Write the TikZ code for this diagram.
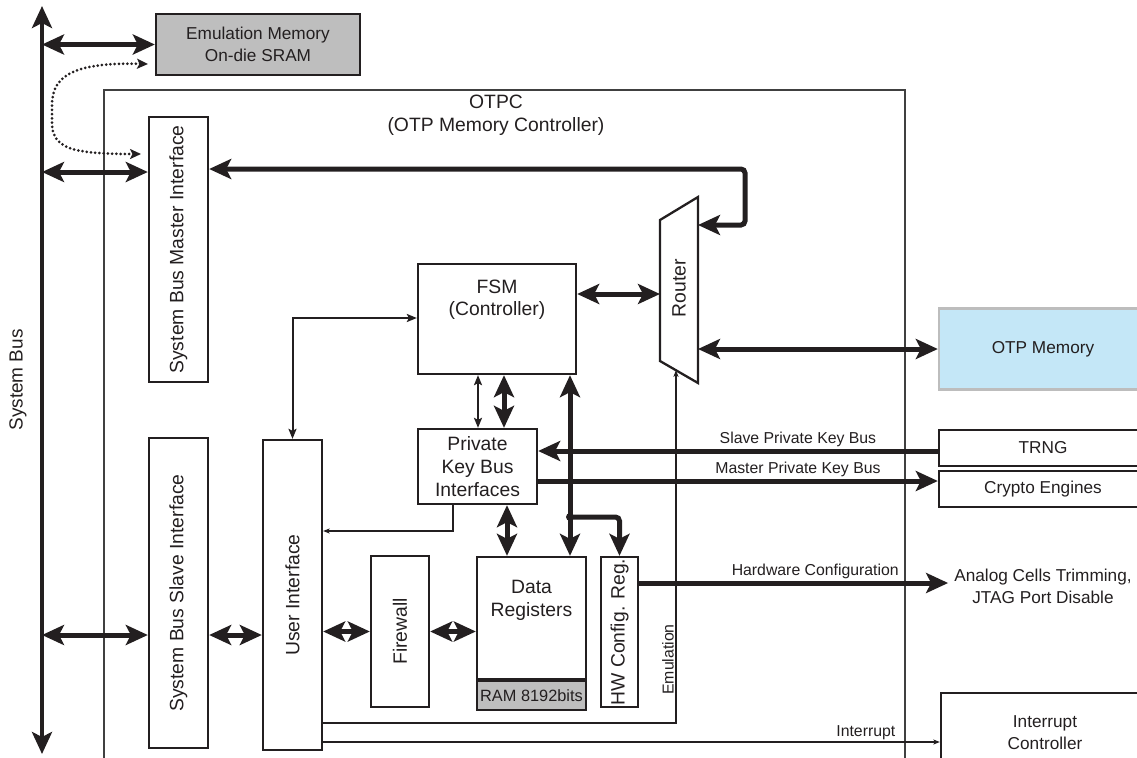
\documentclass[tikz,border=0pt]{standalone}
\usepackage{fontspec}
\setmainfont{Liberation Sans}
\usepackage{graphicx}
\usetikzlibrary{arrows.meta,positioning,calc}

\definecolor{ink}{HTML}{231F20}
\definecolor{emugray}{HTML}{BEBEBE}
\definecolor{otpblue}{HTML}{C4E7F7}
\definecolor{otpedge}{HTML}{BDBDBD}
\definecolor{framegray}{HTML}{404040}

\newcommand{\px}{0.02cm}
\newcommand{\blkfont}{\fontsize{11pt}{13pt}\selectfont}
\newcommand{\outfont}{\fontsize{9.8pt}{12.4pt}\selectfont}
\newcommand{\lblfont}{\fontsize{9pt}{11pt}\selectfont}

\begin{document}
\begin{tikzpicture}[x=0.02cm, y=-0.02cm,
  bighead/.tip={Stealth[length=0.44cm, width=0.4cm, inset=0.1cm]},
  thinhead/.tip={Stealth[length=0.2cm, width=0.16cm, inset=0.04cm]},
  hairhead/.tip={Stealth[length=0.13cm, width=0.1cm, inset=0.03cm]},
  dothead/.tip={Stealth[length=0.22cm, width=0.2cm, inset=0.05cm]},
  every node/.style={text=ink, font=\blkfont},
  box/.style={draw=ink, line width=0.046cm, inner sep=0pt, align=center},
  outbox/.style={box, font=\outfont},
  frame/.style={draw=framegray, line width=0.032cm},
  thk/.style={draw=ink, line width=0.1cm},
  dbl/.style={thk, bighead-bighead},
  thin2/.style={draw=ink, line width=0.04cm},
  hair/.style={draw=ink, line width=0.022cm},
  dots/.style={draw=ink, line width=0.06cm, line cap=round, dash pattern=on 0pt off 0.085cm},
  lbl/.style={font=\lblfont, inner sep=1pt}
]
  \useasboundingbox (0,0) rectangle (1137,758);

  % OTPC frame
  \draw[frame] (104,775) -- (104,90) -- (905,90) -- (905,775);
  \node[align=center] (otpc) at (496,115) {OTPC\\(OTP Memory Controller)};

  % System bus
  \coordinate (bushi) at (42,6);
  \coordinate (buslo) at (42,754);
  \node[rotate=90, font=\fontsize{10.8pt}{13pt}\selectfont] (buslbl) at (18,380) {System Bus};

  % Blocks
  \node[outbox, fill=emugray, minimum width=204*\px, minimum height=61*\px] (emu) at (258,44.5) {Emulation Memory\\On-die SRAM};
  \node[box, minimum width=59*\px, minimum height=265*\px] (master) at (178.5,249.5) {\rotatebox{90}{System Bus Master Interface}};
  \node[box, minimum width=59*\px, minimum height=310*\px] (slave) at (178.5,593) {\rotatebox{90}{System Bus Slave Interface}};
  \node[box, minimum width=59*\px, minimum height=310*\px] (ui) at (292.5,595) {\rotatebox{90}{User Interface}};
  \node[box, minimum width=158*\px, minimum height=110*\px,
        label={[anchor=north, yshift=-0.21cm, align=center]north:{FSM\\(Controller)}}] (fsm) at (497,319) {};
  \node[box, minimum width=119*\px, minimum height=75*\px] (pkb) at (477.5,466.5) {Private\\Key Bus\\Interfaces};
  \node[box, minimum width=109*\px, minimum height=122*\px,
        label={[anchor=north, yshift=-0.36cm, align=center]north:{Data\\Registers}}] (dr) at (531.5,618) {};
  \node[box, fill=emugray, font=\fontsize{9.3pt}{11pt}\selectfont, minimum width=109*\px, minimum height=29*\px, below=0pt of dr] (ram) {RAM 8192bits};
  \node[box, minimum width=37*\px, minimum height=150*\px] (hw) at (619.5,632) {\rotatebox{90}{HW Config. Reg.}};
  \node[box, minimum width=58*\px, minimum height=151*\px] (fw) at (400,631.5) {\rotatebox{90}{Firewall}};
  \node[outbox, draw=otpedge, fill=otpblue, minimum width=208*\px, minimum height=81*\px] (otp) at (1043,349) {OTP Memory};
  \node[outbox, minimum width=208*\px, minimum height=36*\px] (trng) at (1043,448) {TRNG};
  \node[outbox, minimum width=208*\px, minimum height=36*\px] (crypto) at (1043,489) {Crypto Engines};
  \node[align=center, font=\outfont] (analog) at (1043,586) {Analog Cells Trimming,\\JTAG Port Disable};
  \node[outbox, minimum width=208*\px, minimum height=80*\px] (intc) at (1045,733) {Interrupt\\Controller};

  % Router
  \coordinate (rt-nw) at (660,220);
  \coordinate (rt-ne) at (698,197);
  \coordinate (rt-se) at (698,383);
  \coordinate (rt-sw) at (660,361);
  \coordinate (rt-emu) at ($(rt-sw)!0.42!(rt-se)$);
  \draw[draw=ink, line width=0.046cm] (rt-nw) -- (rt-ne) -- (rt-se) -- (rt-sw) -- cycle;
  \node[rotate=90] (router) at (679,288) {Router};

  % Bus connections
  \draw[thk, bighead-bighead] (buslo) -- (bushi);
  \draw[dbl] (bushi |- emu.west) -- (emu.west);
  \draw[dbl] (bushi |- 0,172) -- (master.west |- 0,172);
  \draw[dbl] (bushi |- 0,635) -- (slave.west |- 0,635);
  \coordinate (dot-a) at (148,64);
  \coordinate (dot-b) at (141,154);
  \draw[dots, dothead-dothead] (dot-a) .. controls (70,62) and (52,78) .. (52,105) -- (52,122)
    .. controls (52,148) and (70,154) .. (dot-b);

  % Internal connections
  \draw[dbl, rounded corners=0.08cm] (rt-ne |- 0,225) -- (745,225) -- (745,169) -- (master.east |- 0,169);
  \draw[dbl] (fsm.east |- 0,294) -- (rt-nw |- 0,294);
  \draw[dbl] (rt-ne |- otp.west) -- (otp.west);
  \draw[thin2, thinhead-thinhead] (fsm.west |- 0,318) -| (ui.north);
  \draw[thin2, thinhead-thinhead] (fsm.south -| 478,0) -- (pkb.north -| 478,0);
  \draw[dbl] (fsm.south -| 504,0) -- (pkb.north -| 504,0);
  \draw[dbl] (fsm.south -| 570,0) -- (dr.north -| 570,0);
  \coordinate (jn) at (570,517);
  \fill[ink] (jn) circle (0.08cm);
  \draw[thk, -bighead, rounded corners=0.08cm] (jn) -| (hw.north);
  \draw[thk, -bighead] (trng.west |- 0,451) -- node[lbl, above, pos=0.35] {Slave Private Key Bus} (pkb.east |- 0,451);
  \draw[thk, -bighead] (pkb.east |- 0,481) -- node[lbl, above, pos=0.65] {Master Private Key Bus} (crypto.west |- 0,481);
  \draw[hair, -hairhead] (pkb.south -| 453,0) |- (ui.east |- 0,531);
  \draw[dbl] (pkb.south -| 507,0) -- (dr.north -| 507,0);
  \draw[dbl] (slave.east |- 0,635) -- (ui.west |- 0,635);
  \draw[dbl] (ui.east |- fw.west) -- (fw.west);
  \draw[dbl] (fw.east) -- (dr.west |- fw.east);
  \draw[thk, -bighead] (hw.east |- 0,583) -- node[lbl, above, pos=0.57] {Hardware Configuration} (analog.west |- 0,583);
  \draw[hair, -hairhead] (ui.east |- 0,723) -| node[lbl, sloped, above, pos=0.59] {Emulation} (rt-emu);
  \draw[hair, -hairhead] (ui.east |- 0,742) -- node[lbl, above, pos=0.88] {Interrupt} (intc.west |- 0,742);
\end{tikzpicture}
\end{document}
